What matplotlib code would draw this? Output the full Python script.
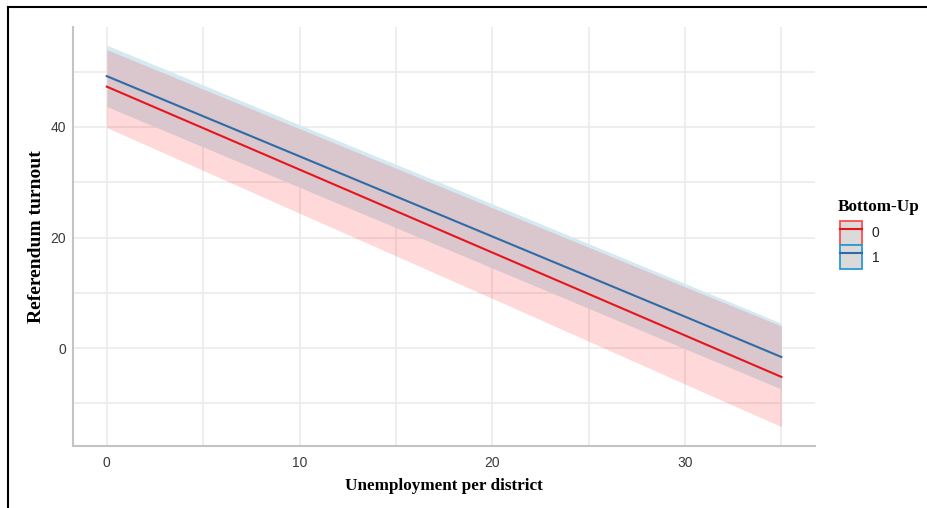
import matplotlib
matplotlib.use('Agg')
import matplotlib.pyplot as plt
from matplotlib.lines import Line2D
from matplotlib.patches import Patch
from matplotlib.legend_handler import HandlerTuple

# values
unemployment = [0, 10, 20, 30, 35]

red_fit = [47.3, 32.3, 17.3, 2.3, -5.2]
red_upper = [54.0, 39.7, 25.4, 11.1, 4.0]
red_lower = [39.9, 24.4, 9.0, -6.5, -14.2]

blue_fit = [49.2, 34.7, 20.2, 5.7, -1.6]
blue_upper = [54.8, 40.4, 26.1, 11.7, 4.5]
blue_lower = [43.7, 29.1, 14.5, -0.1, -7.4]

group_labels = ['0', '1']
x_ticks = [0, 10, 20, 30]
y_ticks = [0, 20, 40]

RED = '#e8141c'
BLUE = '#2f6ba6'
GRID = '#ebebeb'

fig = plt.figure(figsize=(9.27, 5.08), dpi=100)
ax = fig.add_axes([0.0788, 0.122, 0.8005, 0.825])

ax.fill_between(unemployment, blue_lower, blue_upper, color='#d4e9f2', lw=0, zorder=2)
ax.fill_between(unemployment, red_lower, red_upper, color='red', alpha=0.15, lw=0, zorder=3)
ax.plot(unemployment, red_fit, color=RED, lw=1.5, zorder=4)
ax.plot(unemployment, blue_fit, color=BLUE, lw=1.5, zorder=5)

ax.set_xlim(-1.75, 36.75)
ax.set_ylim(-17.7, 58.1)
ax.set_xticks(x_ticks)
ax.set_yticks(y_ticks)
ax.set_xticks([5, 15, 25, 35], minor=True)
ax.set_yticks([-10, 10, 30, 50], minor=True)
ax.grid(True, which='both', color=GRID, lw=1.2, zorder=0)
ax.set_axisbelow(True)
ax.tick_params(which='both', length=0)
ax.tick_params(labelsize=10, labelcolor='#3a3a3a')
ax.tick_params(axis='x', pad=7)
ax.tick_params(axis='y', pad=5)
for lab in ax.get_xticklabels() + ax.get_yticklabels():
    lab.set_family('Liberation Sans')

for side in ['top', 'right']:
    ax.spines[side].set_visible(False)
for side in ['left', 'bottom']:
    ax.spines[side].set_color('#c4c4c4')
    ax.spines[side].set_linewidth(1.5)

ax.set_xlabel('Unemployment per district', family='Liberation Serif',
              fontweight='bold', fontsize=12.3, labelpad=6)
ax.set_ylabel('Referendum turnout', family='Liberation Serif',
              fontweight='bold', fontsize=14, labelpad=4)

# legend: title as its own text, keys below it
fig.text(838 / 927, 1 - 207 / 508, 'Bottom-Up', family='Liberation Serif',
         fontweight='bold', fontsize=12.3, va='center', ha='left')
handles = [
    (Patch(facecolor='#dadada', edgecolor='#ff4d4d', lw=1.3), Line2D([], [], color=RED, lw=1.5)),
    (Patch(facecolor='#dadada', edgecolor='#2a9ad6', lw=1.3), Line2D([], [], color=BLUE, lw=1.5)),
]
leg = fig.legend(handles, group_labels, handler_map={tuple: HandlerTuple(ndivide=1, pad=0)},
                 loc='upper left', bbox_to_anchor=(840 / 927, 1 - 221 / 508), frameon=False,
                 fontsize=10, handlelength=1.6, handleheight=2.3, labelspacing=0.0,
                 handletextpad=0.7, borderaxespad=0, borderpad=0)
for t in leg.get_texts():
    t.set_family('Liberation Sans')
    t.set_color('#222222')

# partial frame round the figure
fig.add_artist(Line2D([8 / 927, 1], [1 - 7 / 508, 1 - 7 / 508], transform=fig.transFigure,
                      color='black', lw=1.5))
fig.add_artist(Line2D([8 / 927, 8 / 927], [0, 1 - 7 / 508], transform=fig.transFigure,
                      color='black', lw=1.5))

fig.savefig('out.png', dpi=100)
